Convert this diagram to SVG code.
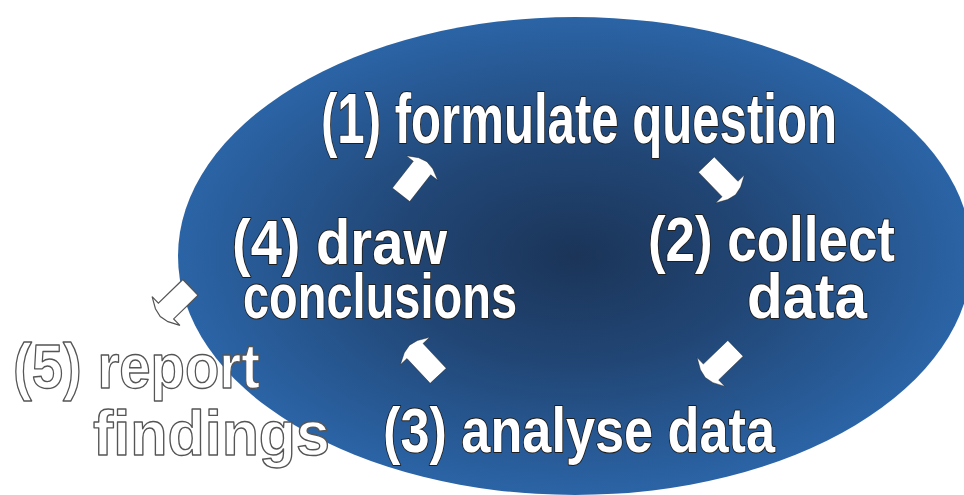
<svg xmlns="http://www.w3.org/2000/svg" width="964" height="495" viewBox="0 0 964 495">
<defs>
<radialGradient id="bg" cx="50%" cy="50%" r="50%">
<stop offset="0%" stop-color="#1b3458"/>
<stop offset="45%" stop-color="#214675"/>
<stop offset="100%" stop-color="#2b64a6"/>
</radialGradient>
<path id="arr" d="M-34,-11 L0,-11 L0,-20 L6,-9 L8,0 L6,9 L0,20 L0,11 L-34,11 Z"/>
</defs>
<style>
.lbl{font-family:"Liberation Sans",Arial,sans-serif;font-weight:bold;fill:#ffffff;stroke:#1e1e1e;stroke-width:2;paint-order:stroke fill;stroke-linejoin:round}
.out{font-family:"Liberation Sans",Arial,sans-serif;font-weight:bold;fill:#ffffff;stroke:#555555;stroke-width:1.4;stroke-linejoin:round}
.a{fill:#ffffff;stroke:#1a1a1a;stroke-width:0.8;stroke-opacity:0.5}
.a5{fill:#ffffff;stroke:#555555;stroke-width:1.2}
</style>
<rect width="964" height="495" fill="#ffffff"/>
<ellipse id="cycle" cx="575" cy="256" rx="397" ry="239" fill="url(#bg)"/>
<g id="connectors">
<use href="#arr" class="a" transform="translate(422,168) rotate(-52)"/>
<use href="#arr" class="a" transform="translate(730,189) rotate(46)"/>
<use href="#arr" class="a" transform="translate(711,372) rotate(136)"/>
<use href="#arr" class="a" transform="translate(415,351) rotate(-133)"/>
<use href="#arr" class="a5" transform="translate(166,311) rotate(136)"/>
</g>
<g id="n1"><text class="lbl" x="321" y="143" font-size="70" textLength="516" lengthAdjust="spacingAndGlyphs">(1) formulate question</text></g>
<g id="n2"><text class="lbl" x="648" y="261" font-size="63" textLength="247" lengthAdjust="spacingAndGlyphs">(2) collect</text><text class="lbl" x="747" y="318" font-size="63" textLength="120" lengthAdjust="spacingAndGlyphs">data</text></g>
<g id="n3"><text class="lbl" x="383" y="452" font-size="63" textLength="392" lengthAdjust="spacingAndGlyphs">(3) analyse data</text></g>
<g id="n4"><text class="lbl" x="232" y="264" font-size="63" textLength="215" lengthAdjust="spacingAndGlyphs">(4) draw</text><text class="lbl" x="243" y="318" font-size="63" textLength="274" lengthAdjust="spacingAndGlyphs">conclusions</text></g>
<g id="n5"><text class="out" x="13" y="388" font-size="63" textLength="247" lengthAdjust="spacingAndGlyphs">(5) report</text><text class="out" x="93" y="455" font-size="63" textLength="237" lengthAdjust="spacingAndGlyphs">findings</text></g>
</svg>
